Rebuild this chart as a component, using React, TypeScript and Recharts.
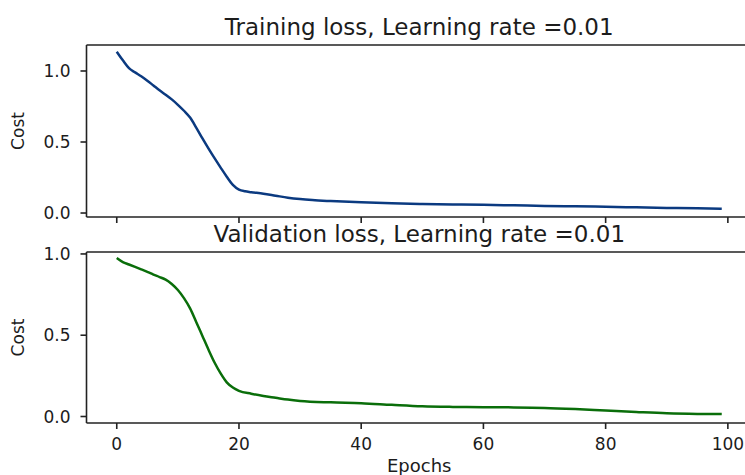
import { LineChart, Line, XAxis, YAxis, Label, ReferenceLine } from "recharts";

// values
const trainEpochs = [0, 1, 2, 3, 4, 5, 6, 7, 8, 9, 10, 11, 12, 13, 14, 15, 16, 17, 18, 19, 20, 21, 22, 24, 26, 28, 30, 32, 35, 40, 45, 50, 55, 60, 65, 70, 75, 80, 85, 90, 95, 99];
const trainLoss = [1.136, 1.075, 1.02, 0.99, 0.963, 0.932, 0.898, 0.864, 0.833, 0.8, 0.762, 0.72, 0.672, 0.602, 0.527, 0.455, 0.386, 0.32, 0.256, 0.198, 0.165, 0.153, 0.147, 0.136, 0.122, 0.108, 0.098, 0.091, 0.084, 0.075, 0.068, 0.063, 0.06, 0.058, 0.054, 0.05, 0.047, 0.044, 0.04, 0.036, 0.033, 0.03];

const valEpochs = [0, 1, 2, 3, 4, 5, 6, 7, 8, 9, 10, 11, 12, 13, 14, 15, 16, 17, 18, 19, 20, 22, 24, 26, 28, 30, 35, 40, 45, 50, 55, 60, 65, 70, 75, 80, 85, 90, 95, 99];
const valLoss = [0.975, 0.95, 0.935, 0.92, 0.905, 0.89, 0.873, 0.858, 0.842, 0.815, 0.778, 0.728, 0.665, 0.582, 0.497, 0.412, 0.332, 0.265, 0.21, 0.178, 0.158, 0.14, 0.126, 0.115, 0.104, 0.096, 0.087, 0.082, 0.072, 0.063, 0.059, 0.057, 0.056, 0.053, 0.046, 0.037, 0.028, 0.02, 0.016, 0.015];

const epochTicks = [0, 20, 40, 60, 80, 100];
const costTicks = [0, 0.5, 1.0];

const FONT = "'DejaVu Sans', sans-serif";
const INK = "#1c1c1c";
const SPINE = { stroke: "#222", strokeWidth: 1.6 };
const X_DOMAIN: [number, number] = [-4.95, 103.95];

type PanelProps = {
  epochs: number[];
  loss: number[];
  title: string;
  color: string;
  yDomain: [number, number];
  top: number;
  height: number;
  marginTop: number;
  bottomAxis: number;
  showEpochs: boolean;
};

function LossPanel(p: PanelProps) {
  const data = p.epochs.map((e, i) => ({ epoch: e, cost: p.loss[i] }));
  return (
    <div style={{ position: "absolute", left: 0, top: p.top }}>
      {/* title sits 10px above the axes box */}
      <div
        style={{
          position: "absolute",
          left: 86.5,
          width: 665.5,
          top: p.marginTop - 10 - 19.5,
          lineHeight: "23px",
          fontSize: 23,
          fontFamily: FONT,
          color: INK,
          textAlign: "center",
          whiteSpace: "nowrap",
        }}
      >
        {p.title}
      </div>
      <LineChart
        width={752}
        height={p.height}
        data={data}
        margin={{ top: p.marginTop, right: 0, bottom: 0, left: 0 }}
        style={{ fontFamily: FONT }}
      >
        <XAxis
          type="number"
          dataKey="epoch"
          domain={X_DOMAIN}
          allowDataOverflow
          ticks={epochTicks}
          height={p.bottomAxis}
          tickSize={6}
          tickMargin={9}
          axisLine={SPINE}
          tickLine={SPINE}
          tick={{ fontSize: 17, fill: INK, fontFamily: FONT }}
          tickFormatter={(v) => (p.showEpochs ? String(v) : "")}
        >
          {p.showEpochs && (
            <Label
              value="Epochs"
              position="insideBottom"
              offset={3}
              fontSize={18}
              fill={INK}
              fontFamily={FONT}
            />
          )}
        </XAxis>
        <YAxis
          type="number"
          domain={p.yDomain}
          allowDataOverflow
          ticks={costTicks}
          width={86.5}
          tickSize={6}
          tickMargin={10}
          axisLine={SPINE}
          tickLine={SPINE}
          tick={{ fontSize: 17, fill: INK, fontFamily: FONT }}
          tickFormatter={(v) => Number(v).toFixed(1)}
        >
          <Label
            value="Cost"
            angle={-90}
            position="insideLeft"
            offset={18}
            fontSize={17}
            fill={INK}
            fontFamily={FONT}
            style={{ textAnchor: "middle" }}
          />
        </YAxis>
        {/* top spine */}
        <ReferenceLine
          y={p.yDomain[1]}
          stroke={SPINE.stroke}
          strokeWidth={SPINE.strokeWidth}
          ifOverflow="visible"
        />
        <Line
          type="monotone"
          dataKey="cost"
          stroke={p.color}
          strokeWidth={2.5}
          dot={false}
          isAnimationActive={false}
        />
      </LineChart>
    </div>
  );
}

export default function App() {
  return (
    <div
      style={{
        position: "fixed",
        left: 0,
        top: 0,
        width: 745,
        height: 475,
        overflow: "hidden",
        background: "#fff",
      }}
    >
      <LossPanel
        epochs={trainEpochs}
        loss={trainLoss}
        title="Training loss, Learning rate =0.01"
        color="#0b3a80"
        yDomain={[-0.028, 1.183]}
        top={0}
        height={227}
        marginTop={45}
        bottomAxis={10}
        showEpochs={false}
      />
      <LossPanel
        epochs={valEpochs}
        loss={valLoss}
        title="Validation loss, Learning rate =0.01"
        color="#0a6e0a"
        yDomain={[-0.04, 1.012]}
        top={227}
        height={248}
        marginTop={25}
        bottomAxis={52}
        showEpochs={true}
      />
    </div>
  );
}
